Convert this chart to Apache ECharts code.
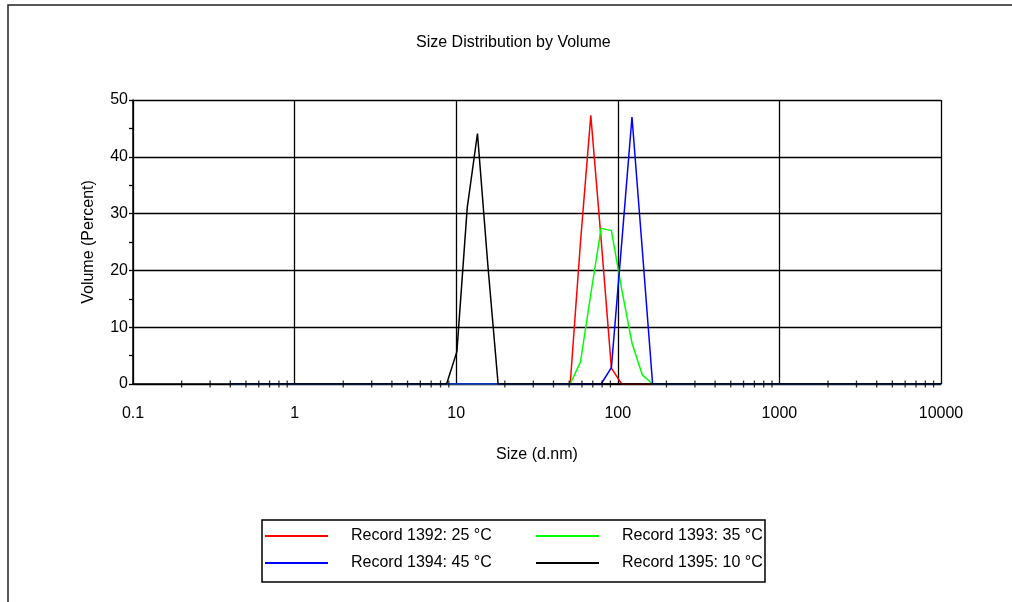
<!DOCTYPE html>
<html>
<head>
<meta charset="utf-8">
<script src="https://cdn.jsdelivr.net/npm/echarts@6/dist/echarts.min.js"></script>
<style>
html,body{margin:0;padding:0;background:#fff;}
#chart{width:1012px;height:602px;}
</style>
</head>
<body>
<div id="chart"></div>
<script>
// Size bins (d.nm)
var sizes = [0.4, 0.4632, 0.5365, 0.6213, 0.7195, 0.8332, 0.9649, 1.117, 1.294, 1.499,
  1.736, 2.01, 2.328, 2.696, 3.122, 3.615, 4.187, 4.849, 5.615, 6.503,
  7.531, 8.721, 10.1, 11.7, 13.54, 15.69, 18.17, 21.04, 24.36, 28.21,
  32.67, 37.84, 43.82, 50.75, 58.77, 68.06, 78.82, 91.28, 105.7, 122.4,
  141.8, 164.2, 190.1, 220.2, 255.0, 295.3, 342.0, 396.1, 458.7, 531.2,
  615.1, 712.4, 825.0, 955.4, 1106, 1281, 1484, 1718, 1990, 2305,
  2669, 3091, 3580, 4145, 4801, 5560, 6439, 7456, 8635, 10000];

// Volume (%) per bin
var rec1392 = [0,0,0,0,0,0,0,0,0,0, 0,0,0,0,0,0,0,0,0,0,
  0,0,0,0,0,0,0,0,0,0, 0,0,0,0,25.0,47.3,25.5,2.8,0,0,
  0,0,0,0,0,0,0,0,0,0, 0,0,0,0,0,0,0,0,0,0, 0,0,0,0,0,0,0,0,0,0];
var rec1393 = [0,0,0,0,0,0,0,0,0,0, 0,0,0,0,0,0,0,0,0,0,
  0,0,0,0,0,0,0,0,0,0, 0,0,0,0,3.9,15.8,27.4,27.0,16.7,7.2,
  1.6,0,0,0,0,0,0,0,0,0, 0,0,0,0,0,0,0,0,0,0, 0,0,0,0,0,0,0,0,0,0];
var rec1394 = [0,0,0,0,0,0,0,0,0,0, 0,0,0,0,0,0,0,0,0,0,
  0,0,0,0,0,0,0,0,0,0, 0,0,0,0,0,0,0,2.9,24.8,47.0,
  23.6,0,0,0,0,0,0,0,0,0, 0,0,0,0,0,0,0,0,0,0, 0,0,0,0,0,0,0,0,0,0];
var rec1395 = [0,0,0,0,0,0,0,0,0,0, 0,0,0,0,0,0,0,0,0,0,
  0,0,5.7,31.0,44.1,21.0,0,0,0,0, 0,0,0,0,0,0,0,0,0,0,
  0,0,0,0,0,0,0,0,0,0, 0,0,0,0,0,0,0,0,0,0, 0,0,0,0,0,0,0,0,0,0];

var seriesNames = ['Record 1392: 25 \u00B0C', 'Record 1393: 35 \u00B0C', 'Record 1394: 45 \u00B0C', 'Record 1395: 10 \u00B0C'];
var seriesColors = ['#ff0000', '#00ff00', '#0000ff', '#000000'];

// minor tick positions on the log x axis
var xMinorTicks = [0.2,0.3,0.4,0.5,0.6,0.7,0.8,0.9,
  2,3,4,5,6,7,8,9,
  20,30,40,50,60,70,80,90,
  200,300,400,500,600,700,800,900,
  2000,3000,4000,5000,6000,7000,8000,9000];

var yTickLabels = ['0','10','20','30','40','50'];

function pairs(vals){ return sizes.map(function(s,i){ return [s, vals[i]]; }); }

var FONT = '"Liberation Sans", Arial, sans-serif';
var chart = echarts.init(document.getElementById('chart'), null, {renderer:'canvas'});

var allVals = [rec1392, rec1393, rec1394, rec1395];
var series = allVals.map(function(v, i){
  return {
    name: seriesNames[i], type: 'line', data: pairs(v),
    symbol: 'none', showSymbol: false, animation: false,
    lineStyle: {color: seriesColors[i], width: 1.5},
    itemStyle: {color: seriesColors[i]}, z: 3
  };
});
series.push({
  name: 'minorTicks', type: 'scatter', silent: true, clip: false, animation: false,
  data: xMinorTicks.map(function(t){ return [t, 0]; }),
  symbol: 'rect', symbolSize: [1.3, 7],
  itemStyle: {color: '#000'}, z: 4
});

var legendText = {fontFamily: FONT, fontSize: 16, color: '#000', lineHeight: 16, padding: [4,0,0,18]};

chart.setOption({
  backgroundColor: '#fff',
  animation: false,
  title: {
    text: 'Size Distribution by Volume', left: 411, top: 30,
    textStyle: {fontFamily: FONT, fontSize: 16, fontWeight: 'normal', color: '#000'}
  },
  legend: [{
    data: [seriesNames[0], seriesNames[2]], orient: 'vertical',
    left: 260, top: 521, itemWidth: 63, itemHeight: 2, itemGap: 7, icon: 'rect',
    textStyle: legendText, selectedMode: false
  },{
    data: [seriesNames[1], seriesNames[3]], orient: 'vertical',
    left: 531, top: 521, itemWidth: 63, itemHeight: 2, itemGap: 7, icon: 'rect',
    textStyle: legendText, selectedMode: false
  }],
  grid: {left: 133, right: 71, top: 100, bottom: 218, containLabel: false},
  xAxis: {
    type: 'log', logBase: 10, min: 0.1, max: 10000,
    name: 'Size (d.nm)', nameLocation: 'middle', nameGap: 63,
    nameTextStyle: {fontFamily: FONT, fontSize: 16, color: '#000'},
    axisLine: {show: true, lineStyle: {color: '#000', width: 1.5}},
    axisTick: {show: false},
    axisLabel: {fontFamily: FONT, fontSize: 16, color: '#000', margin: 22,
      formatter: function(v){ return String(+v.toPrecision(6)); }},
    splitLine: {show: true, lineStyle: {color: '#000', width: 1.3}}
  },
  yAxis: {
    type: 'value', min: 0, max: 50, interval: 10,
    name: 'Volume (Percent)', nameLocation: 'middle', nameGap: 36,
    nameTextStyle: {fontFamily: FONT, fontSize: 16, color: '#000'},
    axisLine: {show: true, lineStyle: {color: '#000', width: 1.5}},
    axisTick: {show: true, length: 4, lineStyle: {color: '#000', width: 1.3}},
    minorTick: {show: true, splitNumber: 2, length: 4, lineStyle: {color: '#000', width: 1.3}},
    axisLabel: {fontFamily: FONT, fontSize: 16, color: '#000', margin: 5,
      formatter: function(v){ return yTickLabels[Math.round(v/10)]; }},
    splitLine: {show: true, lineStyle: {color: '#000', width: 1.3}}
  },
  graphic: [
    {type: 'polyline', silent: true, shape: {points: [[8,602],[8,5],[1012,5]]},
      style: {stroke: '#222', lineWidth: 1.5, fill: null}},
    {type: 'rect', silent: true, shape: {x: 262, y: 520, width: 503, height: 62},
      style: {stroke: '#000', lineWidth: 1.5, fill: null}}
  ],
  series: series
});
</script>
</body>
</html>
